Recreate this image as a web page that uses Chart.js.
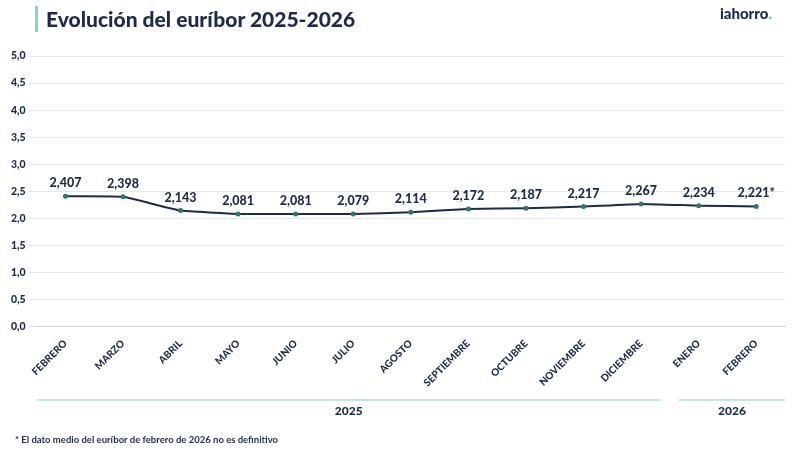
<!DOCTYPE html>
<html><head><meta charset="utf-8">
<script src="https://cdn.jsdelivr.net/npm/chart.js@4"></script>
<style>
body{margin:0;width:800px;height:450px;background:#fff;font-family:Lato,"Open Sans",sans-serif;position:relative;overflow:hidden}
#title{position:absolute;left:35px;top:6px;font-size:21px;font-weight:900;color:#1c2b4c;border-left:3px solid #7fdcc0;padding-left:8px;line-height:26px}
#logo{position:absolute;right:28px;top:4px;font-size:15px;font-weight:900;color:#1c2b4c}
#logo span{color:#3ccf9e}
#note{position:absolute;left:15px;top:434px;font-size:9.5px;font-weight:700;color:#1c2b4c}
#wrap{position:absolute;left:0;top:0;width:800px;height:450px}
</style></head><body>
<div id="wrap"><canvas id="c"></canvas></div>
<div id="title">Evolución del euríbor 2025-2026</div>
<div id="logo">iahorro<span>.</span></div>
<div id="note">* El dato medio del euríbor de febrero de 2026 no es definitivo</div>
<script>
const months = ["FEBRERO","MARZO","ABRIL","MAYO","JUNIO","JULIO","AGOSTO","SEPTIEMBRE","OCTUBRE","NOVIEMBRE","DICIEMBRE","ENERO","FEBRERO"];
const euribor = [2.407,2.398,2.143,2.081,2.081,2.079,2.114,2.172,2.187,2.217,2.267,2.234,2.221];
const valueLabels = ["2,407","2,398","2,143","2,081","2,081","2,079","2,114","2,172","2,187","2,217","2,267","2,234","2,221*"];
const years = [{label:"2025",from:0,to:10},{label:"2026",from:11,to:12}];
const navy = "#1c2b4c";

const labelsPlugin = {
  id: "extras",
  afterDatasetsDraw(chart) {
    const ctx = chart.ctx;
    const meta = chart.getDatasetMeta(0);
    ctx.save();
    ctx.fillStyle = navy;
    ctx.font = "900 12.5px Lato";
    ctx.textAlign = "center";
    meta.data.forEach((p, i) => ctx.fillText(valueLabels[i], p.x, p.y - 9));
    // year groups
    const x = chart.scales.x;
    const half = (x.getPixelForValue(1) - x.getPixelForValue(0)) / 2;
    ctx.strokeStyle = "#7fdcc0";
    ctx.lineWidth = 1.2;
    ctx.font = "900 12px Lato";
    years.forEach((g, k) => {
      const a = x.getPixelForValue(g.from) - half + (k ? 9 : 0);
      const b = x.getPixelForValue(g.to) + half - (k ? 0 : 9);
      ctx.beginPath(); ctx.moveTo(a, 400); ctx.lineTo(b, 400); ctx.stroke();
      ctx.fillText(g.label, (a + b) / 2, 415);
    });
    ctx.restore();
  }
};

new Chart(document.getElementById("c"), {
  type: "line",
  data: { labels: months, datasets: [{ data: euribor, borderColor: navy, borderWidth: 2,
    pointRadius: 1.5, pointBackgroundColor: "#2a7a6a", pointBorderColor: "#2a7a6a", tension: 0.1 }] },
  options: {
    responsive: true, maintainAspectRatio: false, animation: false,
    layout: { padding: { top: 56, right: 15, bottom: 58, left: 8 } },
    plugins: { legend: { display: false }, tooltip: { enabled: false } },
    scales: {
      x: { offset: true, grid: { display: false }, border: { color: "#cfd3da" },
        ticks: { color: navy, font: { size: 10, weight: "900", family: "Lato" }, maxRotation: 45, minRotation: 45 } },
      y: { min: 0, max: 5, grid: { color: "#e4e6ea" }, border: { display: false },
        ticks: { stepSize: 0.5, color: navy, font: { size: 10.5, weight: "900", family: "Lato" },
          callback: v => v.toFixed(1).replace(".", ",") } }
    }
  },
  plugins: [labelsPlugin]
});
</script>
</body></html>
